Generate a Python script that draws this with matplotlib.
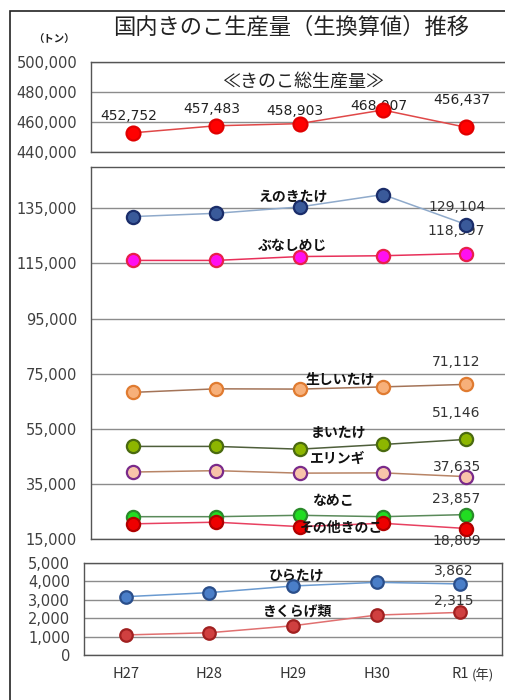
import matplotlib
matplotlib.use('Agg')
import matplotlib.pyplot as plt
from matplotlib.patches import Rectangle
from matplotlib.ticker import FuncFormatter

plt.rcParams['font.family'] = ['Noto Sans CJK JP', 'DejaVu Sans']

# data (tons, fresh weight)
years = ['H27', 'H28', 'H29', 'H30', 'R1']
total = [452752, 457483, 458903, 468007, 456437]
enoki = [132000, 133200, 135500, 140000, 129104]
bunashimeji = [116100, 116100, 117500, 117800, 118597]
shiitake = [68200, 69500, 69400, 70200, 71112]
maitake = [48600, 48600, 47600, 49300, 51146]
eringi = [39300, 39800, 38900, 39000, 37635]
nameko = [23100, 23100, 23600, 23100, 23857]
sonota = [20500, 21100, 19500, 20700, 18809]
hiratake = [3170, 3390, 3750, 3950, 3862]
kikurage = [1090, 1210, 1590, 2170, 2315]

W, H = 505, 700
fig = plt.figure(figsize=(W / 100.0, H / 100.0), dpi=100)
fig.patch.set_facecolor('white')


def px_axes(x0, y0, x1, y1):
    return fig.add_axes([x0 / W, 1 - y1 / H, (x1 - x0) / W, (y1 - y0) / H])


comma = FuncFormatter(lambda v, p: '{:,.0f}'.format(v))
xs = list(range(len(years)))


def style(ax, lo, hi, step):
    ax.set_xlim(-0.5, 4.5)
    ax.set_ylim(lo, hi)
    ax.set_yticks(range(lo, hi + 1, step))
    ax.yaxis.set_major_formatter(comma)
    ax.tick_params(axis='y', length=0, pad=10, labelsize=10.5, labelcolor='#404040')
    for lab in ax.get_yticklabels():
        lab.set_family('DejaVu Sans')
    ax.set_xticks([])
    ax.grid(axis='y', color='#8c8c8c', lw=1)
    ax.set_axisbelow(True)
    for s in ax.spines.values():
        s.set_color('#555555')
        s.set_linewidth(1)


def series(ax, vals, line, fill, edge, ms=9.5):
    ax.plot(xs, vals, '-', color=line, lw=1.1, zorder=3)
    ax.plot(xs, vals, 'o', ms=ms, mfc=fill, mec=edge, mew=1.6, zorder=4)


# ---- top panel: total
ax1 = px_axes(91, 62, 508, 152)
style(ax1, 440000, 500000, 20000)
series(ax1, total, '#e04848', '#ff0000', '#e00000', ms=10)
top_off = [12, 12, 9, 3, 20]
for i, v in enumerate(total):
    ax1.annotate('{:,}'.format(v), (i, v), xytext=(-3, top_off[i]), textcoords='offset points',
                 ha='center', va='center', fontsize=10, color='#222222', family='DejaVu Sans')
ax1.text(2.04, 486700, '≪きのこ総生産量≫', ha='center', va='center', fontsize=13, color='#222222')

# ---- middle panel
ax2 = px_axes(91, 167, 508, 539)
style(ax2, 15000, 150000, 20000)
ax2.set_yticks(range(15000, 150000, 20000))
series(ax2, enoki, '#8faacb', '#3a5a9a', '#1a2d6a')
series(ax2, bunashimeji, '#e8305a', '#ff10f0', '#e8204a')
series(ax2, shiitake, '#a47458', '#f7b07a', '#e07b30')
series(ax2, maitake, '#4e5e3a', '#8db600', '#4a6a10')
series(ax2, eringi, '#b88466', '#f8c4aa', '#7a2a8a')
series(ax2, nameko, '#5a8a5a', '#22dd22', '#2a8a2a')
series(ax2, sonota, '#e84060', '#ee0000', '#b00000')

mid_vals = [enoki[4], bunashimeji[4], shiitake[4], maitake[4], eringi[4], nameko[4], sonota[4]]
mid_off = [13, 16, 16, 19, 7, 11, -9]
for v, dy in zip(mid_vals, mid_off):
    ax2.annotate('{:,}'.format(v), (4, v), xytext=(-7, dy), textcoords='offset points',
                 ha='center', va='center', fontsize=10, color='#333333', family='DejaVu Sans')

names = ['えのきたけ', 'ぶなしめじ', '生しいたけ', 'まいたけ', 'エリンギ', 'なめこ', 'その他きのこ']
name_x = [1.92, 1.92, 2.49, 2.47, 2.46, 2.40, 2.50]
name_y = [139400, 121500, 72800, 53500, 44100, 28800, 19000]
for n, x, y in zip(names, name_x, name_y):
    ax2.text(x, y, n, ha='center', va='center', fontsize=10, fontweight='bold', color='#111111', zorder=5)

# ---- bottom panel
ax3 = px_axes(84, 563, 502, 655)
style(ax3, 0, 5000, 1000)
series(ax3, hiratake, '#6a9ad0', '#4a7ec8', '#2a4e8a', ms=9)
series(ax3, kikurage, '#e07070', '#d04040', '#a02020', ms=9)
for v, dy in [(hiratake[4], 9), (kikurage[4], 8)]:
    ax3.annotate('{:,}'.format(v), (4, v), xytext=(-5, dy), textcoords='offset points',
                 ha='center', va='center', fontsize=10, color='#333333', family='DejaVu Sans')
ax3.text(2.04, 4290, 'ひらたけ', ha='center', va='center', fontsize=10, fontweight='bold', color='#111111')
ax3.text(2.05, 2340, 'きくらげ類', ha='center', va='center', fontsize=10, fontweight='bold', color='#111111')
ax3.set_xticks(xs)
ax3.set_xticklabels(years, fontsize=10.5, color='#333333')
ax3.tick_params(axis='x', length=0, pad=9)
ax3.annotate('(年)', (4, 0), xytext=(8, -14.5), textcoords='offset points',
             ha='left', va='center', fontsize=9.5, color='#333333', annotation_clip=False)

# titles and frame
fig.text(291 / W, 1 - 27 / H, '国内きのこ生産量（生換算値）推移', ha='center', va='center',
         fontsize=16, color='#222222')
fig.text(54 / W, 1 - 40 / H, '（トン）', ha='center', va='center', fontsize=7.5,
         fontweight='bold', color='#222222')
fig.add_artist(Rectangle((10 / W, -0.05), 1.1, 1.05 - 11 / H, transform=fig.transFigure,
                         fill=False, ec='#222222', lw=1.2))

fig.savefig('out.png', dpi=100)
